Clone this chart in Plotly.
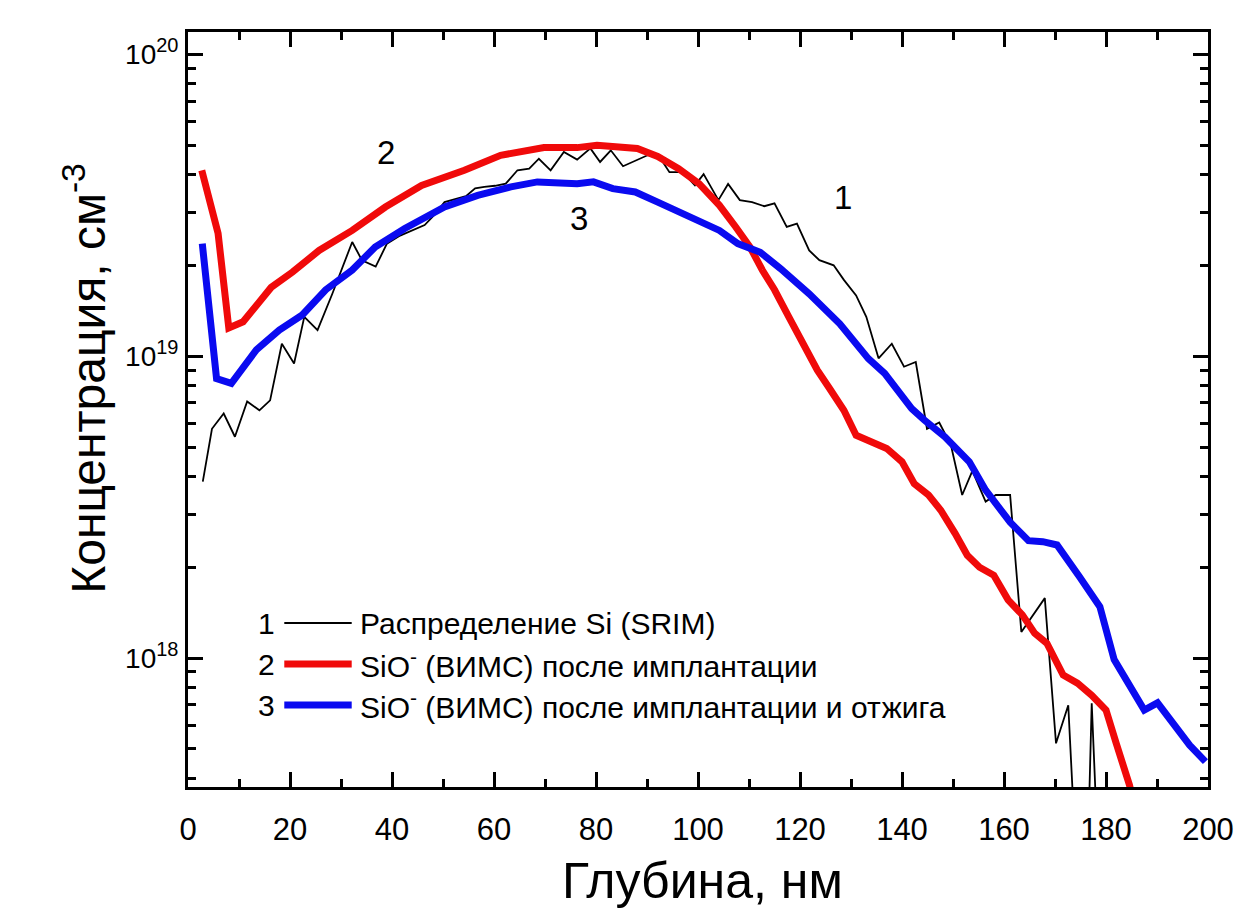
import math
import plotly.graph_objects as go

# ---------------- data ----------------
# Curve 1: Si distribution (SRIM)
srim_depth = [2.9, 4.7, 7.0, 9.2, 11.6, 14.0, 16.1, 18.4, 20.8, 22.8, 25.4, 28.3, 32.2, 34.1,
              36.8, 39.0, 41.6, 43.8, 46.4, 48.4, 50.3, 54.5, 56.3, 58.1, 60.2, 62.3, 64.6,
              66.9, 68.8, 71.1, 73.7, 76.3, 78.9, 80.8, 82.9, 85.3, 87.7, 90.1, 92.1, 94.4,
              97.0, 99.4, 101.1, 104.0, 105.9, 108.2, 110.6, 113.0, 115.0, 117.4, 119.4,
              121.8, 123.8, 126.6, 128.6, 131.0, 133.0, 135.4, 138.0, 140.4, 142.7, 144.9,
              147.3, 149.6, 151.8, 153.8, 156.4, 158.4, 161.2, 163.4, 168.0, 170.2, 172.6,
              174.5, 176.2, 177.2, 178.8]
srim_conc = [3.84e18, 5.75e18, 6.46e18, 5.41e18, 7.08e18, 6.62e18, 7.14e18, 1.10e19, 9.46e18,
             1.35e19, 1.22e19, 1.61e19, 2.39e19, 2.08e19, 1.98e19, 2.36e19, 2.51e19, 2.61e19,
             2.72e19, 2.95e19, 3.24e19, 3.39e19, 3.60e19, 3.64e19, 3.67e19, 3.73e19, 4.13e19,
             4.18e19, 4.51e19, 4.13e19, 4.75e19, 4.48e19, 4.88e19, 4.40e19, 4.81e19, 4.26e19,
             4.45e19, 4.63e19, 4.67e19, 4.07e19, 4.07e19, 3.68e19, 4.01e19, 3.29e19, 3.72e19,
             3.29e19, 3.24e19, 3.14e19, 3.21e19, 2.68e19, 2.75e19, 2.24e19, 2.08e19, 2.00e19,
             1.79e19, 1.59e19, 1.35e19, 9.84e18, 1.10e19, 9.23e18, 9.57e18, 5.75e18, 6.03e18,
             5.07e18, 3.47e18, 4.17e18, 3.30e18, 3.47e18, 3.47e18, 1.22e18, 1.58e18, 5.22e17,
             6.98e17, 1.6e17, 1.6e17, 7.08e17, 1.6e17]

# Curve 2: SiO- (SIMS) after implantation
impl_depth = [2.7, 5.9, 8.0, 10.8, 16.3, 20.5, 25.7, 32.2, 38.7, 45.8, 54.2, 61.3, 69.8, 76.3,
              80.2, 84.1, 88.1, 92.1, 96.2, 100.2, 104.2, 107.4, 110.2, 112.6, 115.0, 117.8,
              120.6, 123.4, 125.8, 128.6, 131.0, 133.8, 137.0, 140.0, 142.4, 145.2, 147.6,
              150.4, 152.8, 155.2, 158.0, 160.8, 163.6, 166.0, 168.4, 171.6, 174.4, 177.2,
              180.0, 182.0, 184.6, 186.5]
impl_conc = [4.13e19, 2.55e19, 1.24e19, 1.30e19, 1.69e19, 1.90e19, 2.24e19, 2.61e19, 3.12e19,
             3.68e19, 4.13e19, 4.63e19, 4.91e19, 4.91e19, 5.00e19, 4.95e19, 4.88e19, 4.59e19,
             4.18e19, 3.73e19, 3.16e19, 2.68e19, 2.30e19, 1.93e19, 1.66e19, 1.35e19, 1.10e19,
             8.99e18, 7.82e18, 6.62e18, 5.47e18, 5.20e18, 4.95e18, 4.47e18, 3.78e18, 3.47e18,
             3.09e18, 2.59e18, 2.19e18, 2.00e18, 1.88e18, 1.56e18, 1.39e18, 1.21e18, 1.12e18,
             8.79e17, 8.26e17, 7.53e17, 6.73e17, 5.22e17, 3.80e17, 2.80e17]

# Curve 3: SiO- (SIMS) after implantation and annealing
anneal_depth = [2.8, 5.6, 8.5, 13.4, 17.9, 22.4, 27.0, 32.2, 36.7, 42.5, 50.3, 56.8, 63.3, 68.5,
                76.3, 79.5, 83.3, 87.7, 92.1, 96.2, 100.2, 104.2, 107.8, 112.2, 116.2, 121.8,
                127.8, 133.4, 136.6, 141.9, 144.4, 148.4, 153.2, 156.4, 161.2, 164.8, 167.6,
                170.4, 174.8, 178.8, 181.6, 184.4, 187.5, 190.1, 193.2, 196.4, 199.5]
anneal_conc = [2.36e19, 8.43e18, 8.13e18, 1.05e19, 1.22e19, 1.37e19, 1.66e19, 1.93e19, 2.30e19,
               2.65e19, 3.12e19, 3.41e19, 3.64e19, 3.78e19, 3.73e19, 3.78e19, 3.59e19, 3.50e19,
               3.24e19, 3.01e19, 2.83e19, 2.61e19, 2.36e19, 2.21e19, 1.95e19, 1.61e19, 1.28e19,
               9.82e18, 8.77e18, 6.71e18, 6.14e18, 5.41e18, 4.47e18, 3.60e18, 2.82e18, 2.45e18,
               2.43e18, 2.37e18, 1.86e18, 1.48e18, 9.89e17, 8.24e17, 6.73e17, 7.11e17, 6.08e17,
               5.15e17, 4.54e17]

x_ticks = [0, 20, 40, 60, 80, 100, 120, 140, 160, 180, 200]
y_tickvals = [1e18, 1e19, 1e20]
y_exponents = ["18", "19", "20"]

series_names = ["Распределение Si (SRIM)",
                "SiO<sup>-</sup> (ВИМС) после имплантации",
                "SiO<sup>-</sup> (ВИМС) после имплантации и отжига"]
series_labels = ["1", "2", "3"]
curve_label_x = [128.5, 38.9, 76.7]
curve_label_y = [3.35e19, 4.72e19, 2.85e19]

# ---------------- styles ----------------
FONT = "Arial, Liberation Sans, sans-serif"
colors = ["#000000", "#f00a0a", "#0a0af0"]
widths = [1.8, 7, 7]

y_ticktext = ['10<sup><span style="font-size:20px">%s</span></sup>' % e for e in y_exponents]

fig = go.Figure()
for xs, ys, c, w, nm in [(srim_depth, srim_conc, colors[0], widths[0], series_names[0]),
                         (impl_depth, impl_conc, colors[1], widths[1], series_names[1]),
                         (anneal_depth, anneal_conc, colors[2], widths[2], series_names[2])]:
    fig.add_trace(go.Scatter(x=xs, y=ys, mode="lines", name=nm,
                             line=dict(color=c, width=w), showlegend=False))

minor_y = [float(k) * 10.0 ** n for n in (17, 18, 19) for k in range(2, 10)]

fig.update_layout(
    width=1246, height=909,
    margin=dict(l=188, r=30, t=32, b=122),
    paper_bgcolor="white", plot_bgcolor="white",
    font=dict(family=FONT, color="black"),
    xaxis=dict(range=[0, 200], tickmode="array", tickvals=x_ticks,
               ticks="inside", ticklen=15, tickwidth=2.5, tickcolor="black",
               showline=True, linewidth=2.8, linecolor="black", mirror="allticks",
               showgrid=False, zeroline=False,
               tickfont=dict(size=31, family=FONT), ticklabelstandoff=13,
               minor=dict(dtick=10, ticks="inside", ticklen=8, tickwidth=2.5,
                          tickcolor="black", showgrid=False)),
    yaxis=dict(type="log", range=[17.573, 20.074], tickmode="array",
               tickvals=y_tickvals, ticktext=y_ticktext,
               ticks="inside", ticklen=15, tickwidth=2.5, tickcolor="black",
               showline=True, linewidth=2.8, linecolor="black", mirror="allticks",
               showgrid=False, zeroline=False,
               tickfont=dict(size=28, family=FONT), ticklabelstandoff=1,
               minor=dict(tickmode="array", tickvals=minor_y, ticks="inside", ticklen=8,
                          tickwidth=2.5, tickcolor="black", showgrid=False)),
)

# axis titles
fig.add_annotation(text="Глубина, нм", xref="paper", yref="paper", x=0.504, y=-0.124,
                   xanchor="center", yanchor="middle", showarrow=False,
                   font=dict(size=50, family=FONT))
fig.add_annotation(text="Концентрация, см<sup>-3</sup>", xref="paper", yref="paper",
                   x=-0.101, y=0.542, textangle=-90, xanchor="center", yanchor="middle",
                   showarrow=False, font=dict(size=48, family=FONT))

# curve labels
for lab, lx, ly in zip(series_labels, curve_label_x, curve_label_y):
    fig.add_annotation(text=lab, x=lx, y=math.log10(ly), showarrow=False,
                       xanchor="center", yanchor="middle", font=dict(size=33, family=FONT))

# manual legend (paper coordinates)
leg_rows = [0.2172, 0.1629, 0.1086]
for lab, nm, c, w, yy in zip(series_labels, series_names, colors, [2, 7, 7], leg_rows):
    fig.add_shape(type="line", xref="paper", yref="paper", x0=0.0944, x1=0.1605, y0=yy, y1=yy,
                  line=dict(color=c, width=w))
    fig.add_annotation(text=lab, xref="paper", yref="paper", x=0.0875, y=yy, xanchor="right",
                       yanchor="middle", showarrow=False, font=dict(size=30, family=FONT))
    fig.add_annotation(text=nm, xref="paper", yref="paper", x=0.1665, y=yy, xanchor="left",
                       yanchor="middle", showarrow=False, font=dict(size=30, family=FONT))

fig.write_html("out.html")
